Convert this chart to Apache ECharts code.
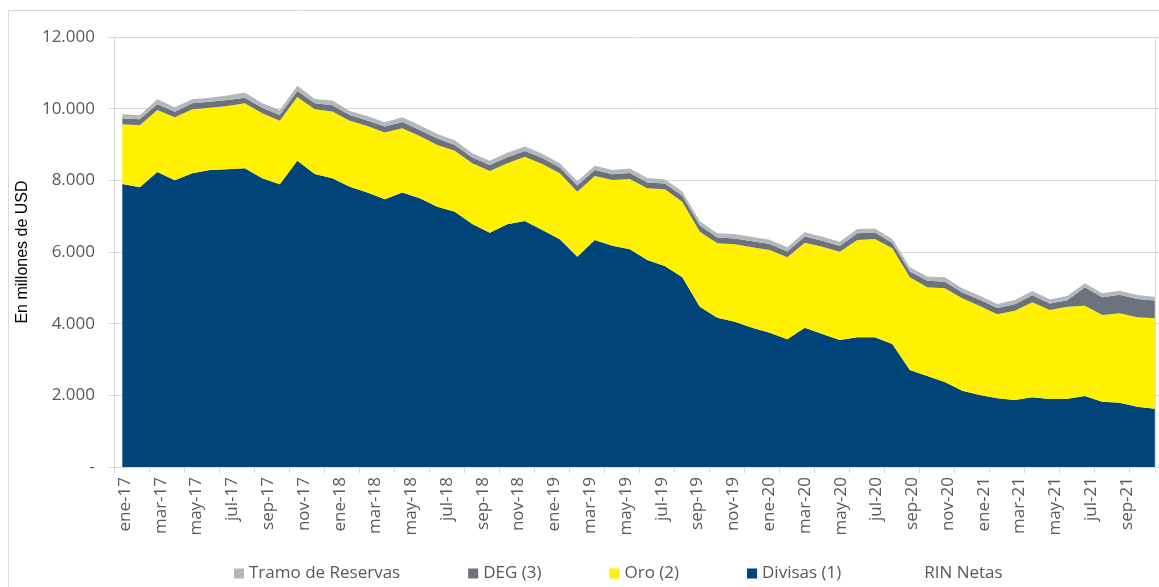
<!DOCTYPE html>
<html>
<head>
<meta charset="utf-8">
<script src="https://cdn.jsdelivr.net/npm/echarts@6/dist/echarts.min.js"></script>
<style>
html, body { margin: 0; padding: 0; background: #fff; }
#rin { width: 1159px; height: 587px; }
</style>
</head>
<body>
<div id="rin"></div>
<script>
var mesesAbr = ['ene', 'feb', 'mar', 'abr', 'may', 'jun', 'jul', 'ago', 'sep', 'oct', 'nov', 'dic'];
var anios = ['17', '18', '19', '20', '21'];
var meses = []; // ene-17 ... dic-21
for (var a = 0; a < anios.length; a++) {
    for (var m = 0; m < mesesAbr.length; m++) {
        meses.push(mesesAbr[m] + '-' + anios[a]);
    }
}
var etiquetas = meses.filter(function (d, i) { return i % 2 === 0 && i <= 56; }); // ene-17 ... sep-21
var ticksY = [0, 2000, 4000, 6000, 8000, 10000, 12000];

// millones de USD, lectura del grafico
var divisas = [7900, 7806, 8233, 8001, 8196, 8289, 8308, 8336, 8057, 7889,
    8550, 8178, 8057, 7824, 7657, 7471, 7657, 7499, 7266, 7126,
    6782, 6540, 6773, 6866, 6615, 6354, 5870, 6336, 6177, 6075,
    5777, 5610, 5294, 4475, 4168, 4056, 3889, 3749, 3563, 3889,
    3712, 3545, 3619, 3619, 3433, 2707, 2540, 2372, 2130, 2010,
    1917, 1870, 1944, 1898, 1907, 1982, 1823, 1796, 1684, 1628];
var oro = [1665, 1730, 1730, 1758, 1786, 1740, 1768, 1814, 1814, 1777,
    1777, 1805, 1861, 1842, 1861, 1861, 1795, 1740, 1721, 1702,
    1693, 1721, 1702, 1795, 1842, 1842, 1814, 1786, 1833, 1963,
    2001, 2140, 2111, 2093, 2075, 2159, 2242, 2307, 2289, 2372,
    2437, 2465, 2717, 2744, 2670, 2587, 2475, 2615, 2578, 2484,
    2344, 2493, 2652, 2484, 2568, 2521, 2419, 2493, 2493, 2521];
var deg = [158, 167, 158, 158, 167, 167, 167, 158, 158, 158,
    167, 167, 177, 158, 149, 167, 177, 167, 177, 158,
    160, 165, 170, 160, 165, 160, 170, 165, 160, 170,
    165, 160, 165, 170, 160, 165, 170, 165, 160, 170,
    165, 160, 185, 180, 150, 165, 180, 185, 165, 170,
    175, 180, 195, 180, 180, 513, 495, 520, 510, 495];
var tramo = [121, 112, 140, 121, 112, 112, 121, 140, 121, 140,
    149, 121, 130, 112, 130, 121, 130, 130, 130, 130,
    120, 118, 122, 120, 118, 120, 122, 120, 118, 120,
    122, 120, 118, 120, 122, 120, 118, 120, 122, 120,
    115, 118, 120, 116, 112, 114, 118, 120, 114, 112,
    113, 116, 120, 116, 118, 110, 110, 113, 113, 110];

var rinChart = echarts.init(document.getElementById('rin'));

var fuente = 'Open Sans';
var gris = '#D9D9D9';

function area(nombre, datos, color) {
    return {
        name: nombre,
        type: 'line',
        stack: 'rin',
        xAxisIndex: 2,
        yAxisIndex: 2,
        symbol: 'none',
        lineStyle: { width: 0 },
        itemStyle: { color: color },
        areaStyle: { color: color, opacity: 1 },
        data: datos
    };
}

var option = {
    animation: false,
    backgroundColor: '#fff',
    graphic: [{
        type: 'rect',
        silent: true,
        z: -10,
        shape: { x: 8.5, y: 10.5, width: 1400, height: 800 },
        style: { fill: 'none', stroke: gris, lineWidth: 1 }
    }],
    grid: [
        { left: 114, right: 4, top: 37, bottom: 120 },      // ejes y lineas
        { left: 125, right: 32, top: 37, bottom: 120 },     // etiquetas de meses
        { left: 122.3, right: 4.2, top: 37, bottom: 120 }   // areas
    ],
    legend: {
        left: 229,
        top: 560,
        icon: 'rect',
        itemWidth: 10,
        itemHeight: 10,
        itemGap: 68,
        textStyle: { color: '#595959', fontSize: 17, fontFamily: fuente },
        data: [
            { name: 'Tramo de Reservas' },
            { name: 'DEG (3)' },
            { name: 'Oro (2)' },
            { name: 'Divisas (1)' },
            { name: 'RIN Netas', icon: 'none' }
        ]
    },
    xAxis: [{
        // marcas del eje cada dos meses
        type: 'value',
        gridIndex: 0,
        position: 'bottom',
        min: 0,
        max: 29.74,
        interval: 1,
        axisLine: { show: true, lineStyle: { color: gris } },
        axisTick: { show: true, length: 6, lineStyle: { color: gris } },
        axisLabel: { show: false },
        splitLine: { show: false }
    }, {
        type: 'category',
        gridIndex: 1,
        data: etiquetas,
        boundaryGap: false,
        axisLine: { show: false },
        axisTick: { show: false },
        axisLabel: {
            interval: 0,
            rotate: 90,
            margin: 10,
            color: '#595959',
            fontSize: 17,
            fontFamily: fuente
        }
    }, {
        type: 'category',
        gridIndex: 2,
        data: meses,
        boundaryGap: false,
        show: false
    }],
    yAxis: [{
        type: 'value',
        gridIndex: 0,
        position: 'left',
        min: ticksY[0],
        max: ticksY[ticksY.length - 1],
        interval: 2000,
        name: 'En millones de USD',
        nameLocation: 'middle',
        nameRotate: 90,
        nameGap: 75,
        nameTextStyle: { color: '#000', fontSize: 16, fontFamily: 'Liberation Sans' },
        axisLine: { show: true, lineStyle: { color: gris } },
        axisTick: { show: true, length: 6, lineStyle: { color: gris } },
        axisLabel: {
            color: '#595959',
            fontSize: 17,
            fontFamily: fuente,
            margin: 19,
            formatter: function (v) {
                if (v === 0) return '-';
                return String(v).replace(/\B(?=(\d{3})+(?!\d))/g, '.');
            }
        },
        splitLine: { show: true, lineStyle: { color: gris } }
    }, {
        type: 'value',
        gridIndex: 0,
        position: 'right',
        min: ticksY[0],
        max: ticksY[ticksY.length - 1],
        interval: 2000,
        axisLine: { show: true, lineStyle: { color: gris } },
        axisTick: { show: true, length: 4, lineStyle: { color: gris } },
        axisLabel: { show: false },
        splitLine: { show: false }
    }, {
        type: 'value',
        gridIndex: 2,
        min: ticksY[0],
        max: ticksY[ticksY.length - 1],
        show: false
    }, {
        type: 'value',
        gridIndex: 1,
        min: 0,
        max: 1,
        show: false
    }],
    series: [
        area('Divisas (1)', divisas, '#00447A'),
        area('Oro (2)', oro, '#FFF100'),
        area('DEG (3)', deg, '#6B727B'),
        area('Tramo de Reservas', tramo, '#B3B8BC'),
        {
            name: 'RIN Netas',
            type: 'line',
            xAxisIndex: 2,
            yAxisIndex: 2,
            symbol: 'none',
            lineStyle: { width: 0 },
            data: []
        }
    ]
};

rinChart.setOption(option);
window.addEventListener('resize', function () {
    rinChart.resize();
});
</script>
</body>
</html>
